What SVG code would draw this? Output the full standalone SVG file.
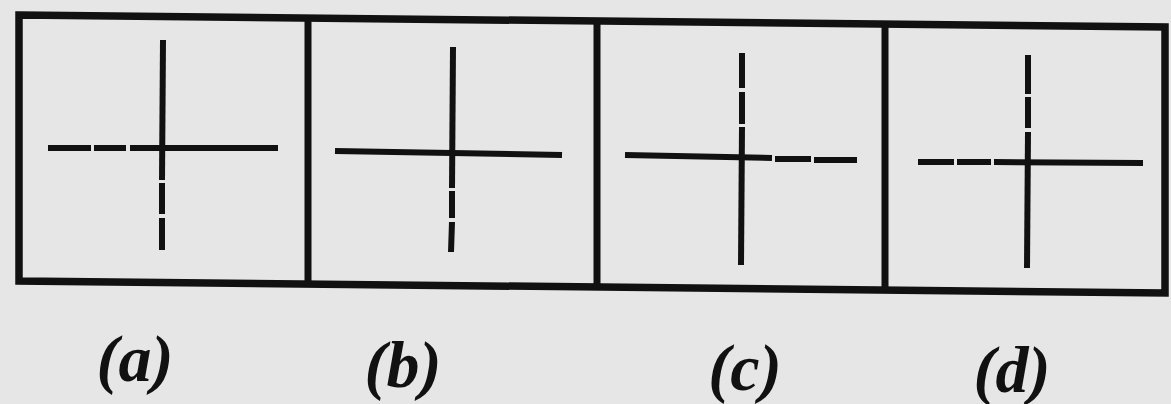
<svg xmlns="http://www.w3.org/2000/svg" width="1171" height="404" viewBox="0 0 1171 404">
<style>
.frame{fill:none;stroke:#111;stroke-width:7.5;stroke-linejoin:miter}
.div{stroke:#111;stroke-width:7}
.ln{stroke:#111;stroke-width:6;stroke-linecap:butt}
.lbl{font-family:"Liberation Serif","Times New Roman",serif;font-weight:bold;font-style:italic;font-size:66px;fill:#111;text-anchor:middle}
</style>
<rect width="1171" height="404" fill="#e6e6e6"/>
<g id="frame">
<polygon class="frame" points="19,15 1165,27 1165,293 19,281" fill="#ebebeb"/>
</g>
<g id="connectors">
<line class="div" x1="308" y1="18" x2="308" y2="284"/>
<line class="div" x1="597" y1="21" x2="597" y2="287"/>
<line class="div" x1="885" y1="24" x2="885" y2="290"/>
</g>
<g id="panel-a">
<line class="ln" x1="163" y1="40" x2="162" y2="180"/>
<line class="ln" x1="162" y1="183" x2="162" y2="214"/>
<line class="ln" x1="162" y1="218" x2="162" y2="250"/>
<line class="ln" x1="48" y1="148" x2="91" y2="148"/>
<line class="ln" x1="94" y1="148" x2="126" y2="148"/>
<line class="ln" x1="130" y1="148" x2="278" y2="148"/>
<text class="lbl" x="135" y="381">(a)</text>
</g>
<g id="panel-b">
<line class="ln" x1="335" y1="151" x2="562" y2="155"/>
<line class="ln" x1="453" y1="47" x2="452" y2="188"/>
<line class="ln" x1="452" y1="191" x2="452" y2="218"/>
<line class="ln" x1="452" y1="222" x2="451" y2="252"/>
<text class="lbl" x="403" y="387">(b)</text>
</g>
<g id="panel-c">
<line class="ln" x1="625" y1="155" x2="772" y2="158"/>
<line class="ln" x1="775" y1="159" x2="811" y2="159"/>
<line class="ln" x1="814" y1="160" x2="857" y2="160"/>
<line class="ln" x1="742" y1="53" x2="742" y2="88"/>
<line class="ln" x1="742" y1="92" x2="742" y2="124"/>
<line class="ln" x1="742" y1="127" x2="741" y2="265"/>
<text class="lbl" x="745" y="390">(c)</text>
</g>
<g id="panel-d">
<line class="ln" x1="918" y1="162" x2="954" y2="162"/>
<line class="ln" x1="957" y1="162" x2="991" y2="162"/>
<line class="ln" x1="994" y1="162" x2="1143" y2="163"/>
<line class="ln" x1="1028" y1="55" x2="1028" y2="94"/>
<line class="ln" x1="1028" y1="97" x2="1028" y2="128"/>
<line class="ln" x1="1028" y1="132" x2="1027" y2="268"/>
<text class="lbl" x="1012" y="392">(d)</text>
</g>
</svg>
